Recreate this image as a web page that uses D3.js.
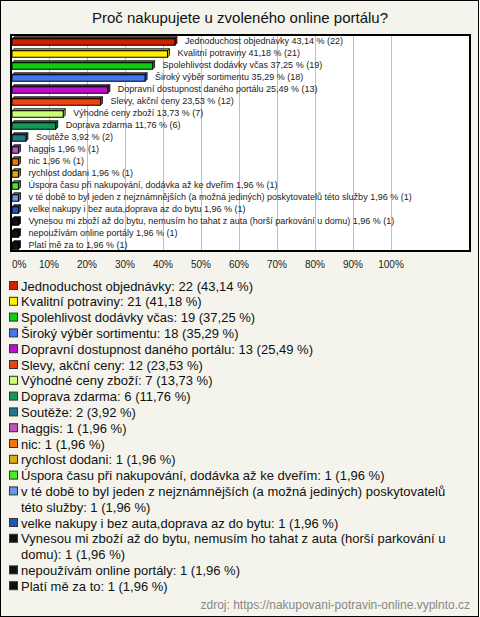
<!DOCTYPE html>
<html><head><meta charset="utf-8">
<script src="https://cdn.jsdelivr.net/npm/d3@7"></script>
<style>body{margin:0;background:#fff}svg{display:block}</style>
</head><body>
<script>
const title = "Proč nakupujete u zvoleného online portálu?";
const categories = [
  "Jednoduchost objednávky","Kvalitní potraviny","Spolehlivost dodávky včas","Široký výběr sortimentu",
  "Dopravní dostupnost daného portálu","Slevy, akční ceny","Výhodné ceny zboží","Doprava zdarma","Soutěže",
  "haggis","nic","rychlost dodani","Úspora času při nakupování, dodávka až ke dveřím",
  "v té době to byl jeden z nejznámnějších (a možná jediných) poskytovatelů této služby",
  "velke nakupy i bez auta,doprava az do bytu",
  "Vynesou mi zboží až do bytu, nemusím ho tahat z auta (horší parkování u domu)",
  "nepoužívám online portály","Platí mě za to"];
const counts = [22,21,19,18,13,12,7,6,2,1,1,1,1,1,1,1,1,1];
const percents = [43.14,41.18,37.25,35.29,25.49,23.53,13.73,11.76,3.92,1.96,1.96,1.96,1.96,1.96,1.96,1.96,1.96,1.96];
const colors = ["#cc2200","#ffee00","#11cc11","#4477ee","#bb11cc","#ee4411","#ccff77","#119955","#227788",
  "#bb55bb","#ee7711","#ddaa11","#44ee22","#6699ee","#2255bb","#111111","#111111","#111111"];
const tickValues = [0,10,20,30,40,50,60,70,80,90,100];
const source = "zdroj: https://nakupovani-potravin-online.vyplnto.cz";

const W=480,H=617;
const fmt = v => v.toFixed(2).replace(".", ",");
const svg = d3.select("body").append("svg").attr("width",W).attr("height",H);
svg.append("rect").attr("x",0.5).attr("y",0.5).attr("width",W-2).attr("height",H-1)
  .attr("fill","#f4f4ec").attr("stroke","#000");
svg.append("text").attr("x",240).attr("y",23).attr("text-anchor","middle")
  .attr("font-family","Liberation Sans, Arial, sans-serif").attr("font-size",15).attr("fill","#111").text(title);

const plot = {x:11,y:35,w:459,h:216};
svg.append("rect").attr("x",plot.x).attr("y",plot.y).attr("width",plot.w).attr("height",plot.h)
  .attr("fill","#fff");
const x = d3.scaleLinear().domain([0,100]).range([11,391]);
const y = d3.scaleBand().domain(d3.range(categories.length)).range([plot.y,plot.y+plot.h]);

svg.append("g").selectAll("line").data(tickValues.slice(1)).join("line")
  .attr("x1",d=>x(d)+0.5).attr("x2",d=>x(d)+0.5).attr("y1",plot.y).attr("y2",plot.y+plot.h)
  .attr("stroke","#c0c0c0").attr("stroke-width",1);

const bh=6.5, dp=2;
const g = svg.append("g");
categories.forEach((c,i)=>{
  const x0=x(0)+1, x1=x(percents[i]), yy=y(i)+ (y.bandwidth()-bh)/2 + 1;
  const col=d3.color(colors[i]);
  const dark=col.darker(0.8).toString();
  g.append("path").attr("d",`M${x0},${yy}L${x0+dp},${yy-dp}L${x1+dp},${yy-dp}L${x1},${yy}Z`)
    .attr("fill",dark).attr("stroke","#000").attr("stroke-width",0.8);
  g.append("path").attr("d",`M${x1},${yy}L${x1+dp},${yy-dp}L${x1+dp},${yy+bh-dp}L${x1},${yy+bh}Z`)
    .attr("fill",dark).attr("stroke","#000").attr("stroke-width",0.8);
  g.append("rect").attr("x",x0).attr("y",yy).attr("width",x1-x0).attr("height",bh)
    .attr("fill",colors[i]).attr("stroke","#000").attr("stroke-width",1);
  g.append("text").attr("x",x1+dp+8).attr("y",y(i)+y.bandwidth()/2+3)
    .attr("font-family","Liberation Sans, Arial, sans-serif").attr("font-size",9).attr("fill","#222")
    .text(`${c} ${fmt(percents[i])} % (${counts[i]})`);
});
svg.append("rect").attr("x",plot.x).attr("y",plot.y).attr("width",plot.w).attr("height",plot.h)
  .attr("fill","none").attr("stroke","#000").attr("stroke-width",2);

svg.append("g").selectAll("text").data(tickValues).join("text")
  .attr("x",d=>d===0?x(d)+1:x(d)).attr("y",268).attr("text-anchor",d=>d===0?"start":"middle")
  .attr("font-family","Liberation Sans, Arial, sans-serif").attr("font-size",10).attr("fill","#222")
  .text(d=>d+"%");

// legend
const lg = svg.append("g");
let ly = 286; const lh = 15.8, maxW = 448;
categories.forEach((c,i)=>{
  lg.append("rect").attr("x",9.5).attr("y",ly-4.5).attr("width",8).attr("height",8)
    .attr("fill",colors[i]).attr("stroke","#333").attr("stroke-width",1);
  const words = `${c}: ${counts[i]} (${fmt(percents[i])} %)`.split(" ");
  let t = lg.append("text").attr("x",21).attr("y",ly+4.5)
    .attr("font-family","Liberation Sans, Arial, sans-serif").attr("font-size",13).attr("fill","#111");
  let line=[];
  words.forEach(w=>{
    line.push(w); t.text(line.join(" "));
    if(t.node().getComputedTextLength()>maxW && line.length>1){
      line.pop(); t.text(line.join(" "));
      ly+=lh; line=[w];
      t = lg.append("text").attr("x",21).attr("y",ly+4.5)
        .attr("font-family","Liberation Sans, Arial, sans-serif").attr("font-size",13).attr("fill","#111").text(w);
    }
  });
  ly+=lh;
});
svg.append("text").attr("x",470).attr("y",609).attr("text-anchor","end")
  .attr("font-family","Liberation Sans, Arial, sans-serif").attr("font-size",12).attr("fill","#888").text(source);
</script>
</body></html>
